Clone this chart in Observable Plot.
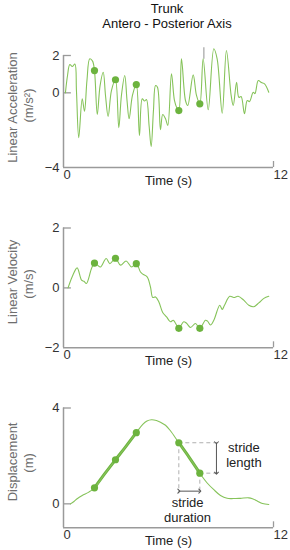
<!DOCTYPE html>
<html>
<head>
<meta charset="utf-8">
<script src="https://cdn.jsdelivr.net/npm/d3@7"></script>
<script src="https://cdn.jsdelivr.net/npm/@observablehq/plot@0.6"></script>
<style>
  body { margin: 0; background: #fff; font-family: "Liberation Sans", Arial, sans-serif; }
  #wrap { width: 290px; }
  .title { height: 38px; box-sizing: border-box; padding-top: 1px; padding-left: 44px;
           text-align: center; font-size: 13px; line-height: 15px; color: #111; }
  svg { display: block; }
</style>
</head>
<body>
<div id="wrap">
  <div class="title"><div>Trunk</div><div>Antero - Posterior Axis</div></div>
  <div id="p1"></div>
  <div id="p2"></div>
  <div id="p3"></div>
</div>
<script>
// ---- Data ----
const titleLines = ["Trunk", "Antero - Posterior Axis"];
const xLabel = "Time (s)";
const xTicks = [0, 12];

// Linear acceleration (m/s²)
const accT = [0.11,0.23,0.36,0.50,0.65,0.74,0.87,1.07,1.20,1.34,1.50,1.66,1.77,1.93,2.09,2.27,2.40,2.55,2.74,2.97,3.16,3.31,3.50,3.63,3.75,3.94,4.16,4.34,4.50,4.63,4.74,4.89,5.01,5.14,5.26,5.37,5.54,5.67,5.83,5.96,6.17,6.34,6.49,6.59,6.74,6.97,7.10,7.41,7.60,7.79,7.98,8.27,8.59,8.78,9.07,9.31,9.58,9.70,9.89,10.02,10.15,10.34,10.50,10.63,10.84,10.94,11.13,11.31,11.49,11.73];
const accV = [0.00,0.93,1.52,1.41,1.54,0.12,-2.41,-0.32,-0.99,0.66,1.82,1.70,1.19,-1.16,0.39,1.10,-0.14,-1.27,0.12,0.70,-1.87,-0.14,0.93,-0.41,-1.39,-0.14,0.44,-2.29,-0.32,-0.44,-0.36,-1.75,-2.88,-0.95,0.39,0.30,-1.98,-1.16,-1.39,-1.75,1.02,-0.41,-0.84,-0.95,1.82,-0.41,-0.68,0.96,-0.14,-0.59,1.82,-0.91,2.36,1.82,-1.09,2.27,-0.14,-0.68,0.57,-0.24,-0.20,-1.12,-0.41,-0.47,0.03,-0.04,0.66,0.55,0.48,0.03];

// Linear velocity (m/s)
const velT = [0.26,0.51,0.78,1.03,1.17,1.31,1.60,1.77,1.94,2.11,2.44,2.65,2.97,3.26,3.58,3.89,4.16,4.40,4.53,4.78,4.97,5.10,5.26,5.45,5.66,5.89,6.11,6.27,6.40,6.59,6.87,7.03,7.26,7.54,7.79,8.11,8.23,8.40,8.59,8.93,9.07,9.20,9.50,9.73,9.98,10.30,10.59,10.87,11.16,11.45,11.73];
const velV = [0.00,0.39,0.67,0.26,0.22,0.15,0.65,0.83,0.76,0.70,0.98,0.81,0.99,0.76,0.90,0.70,0.81,0.53,0.46,0.37,0.03,-0.32,-0.30,-0.47,-0.81,-0.97,-1.13,-1.08,-1.18,-1.35,-1.13,-1.18,-1.32,-1.19,-1.35,-1.08,-1.11,-1.24,-1.08,-0.58,-0.72,-0.58,-0.28,-0.32,-0.28,-0.41,-0.58,-0.63,-0.50,-0.35,-0.28];

// Displacement (m)
const dispT = [0.40,0.60,0.78,1.07,1.45,1.77,2.37,2.97,3.57,4.16,4.53,4.77,5.03,5.31,5.54,5.83,6.11,6.59,7.20,7.79,8.21,8.59,8.97,9.35,9.71,10.11,10.59,10.83,11.07,11.37,11.73];
const dispV = [0.00,0.10,0.21,0.35,0.49,0.67,1.27,1.84,2.40,2.97,3.32,3.46,3.51,3.48,3.41,3.28,3.05,2.55,1.92,1.28,0.87,0.59,0.35,0.23,0.22,0.23,0.25,0.20,0.12,0.01,-0.03];

// Event markers (same instants in all three panels)
const dotT = [1.77, 2.97, 4.16, 6.59, 7.79];
const accDots = [1.19, 0.70, 0.44, -0.95, -0.59];
const velDots = [0.83, 0.99, 0.81, -1.35, -1.35];
const dispDots = [0.67, 1.84, 2.97, 2.55, 1.28];

// Stride annotation (displacement panel)
const strideArrowY = 0.53;
const strideGuideEndT = 8.87;
const strideArrowT = 8.74;
const strideGuideBottom = 0.42;
const strideLenLabel = {t: 10.31, v: 2.06, text: "stride\nlength"};
const strideDurLabel = {t: 7.09, v: -0.25, text: "stride\nduration"};

// grey spike in the acceleration panel
const accSpike = {t: 8.02, v1: 1.8, v2: 2.42};

// ---- Styling ----
const lineColor = "#86c35a";
const dotColor = "#6cb33e";
const axisColor = "#9a9a9a";
const tickText = "#333";
const yTitleColor = "#6e6e6e";
const FONT = "'Liberation Sans', Arial, sans-serif";

function rows(T, V) { return T.map((t, i) => ({t, v: V[i]})); }

function panel({el, height, marginTop, marginBottom, yDomain, yTicks, yTickLabels,
                yTitle, yUnit, titleDy, unitDy, data, dots, tickUpLen, extra = []}) {
  const [y0, y1] = yDomain;
  const marks = [
    Plot.ruleX([0], {x: d => d, y1: y0, y2: yTicks[0], stroke: axisColor, strokeWidth: 1.5}),
    Plot.ruleY([y0], {y: d => d, x1: 0, x2: 12, stroke: axisColor, strokeWidth: 1.5}),
    Plot.ruleY(yTicks.filter(d => d !== y0), {y: d => d, x1: 0, x2: 0.45, stroke: axisColor, strokeWidth: 1.3}),
    Plot.ruleX([12], {x: d => d, y1: y0, y2: y0 + tickUpLen, stroke: axisColor, strokeWidth: 1.3}),
    Plot.text(yTicks, {x: 0, y: d => d, text: (d, i) => yTickLabels[i], textAnchor: "end", lineAnchor: "middle", dx: -4, fill: tickText}),
    Plot.text(xTicks, {x: d => d, text: d => String(d), frameAnchor: "bottom", textAnchor: "start", lineAnchor: "middle", dy: 7.5, fill: tickText}),
    Plot.text([xLabel], {text: d => d, frameAnchor: "bottom", textAnchor: "middle", lineAnchor: "middle", dy: 13.5, fill: "#222"}),
    Plot.text([yTitle], {text: d => d, frameAnchor: "left", textAnchor: "middle", lineAnchor: "middle", rotate: -90, dx: -51, dy: titleDy, fill: yTitleColor}),
    Plot.text([yUnit], {text: d => d, frameAnchor: "left", textAnchor: "middle", lineAnchor: "middle", rotate: -90, dx: -35, dy: unitDy, fill: yTitleColor}),
    ...extra,
    Plot.line(data, {x: "t", y: "v", stroke: lineColor, strokeWidth: 1.1, curve: "catmull-rom"}),
    Plot.dot(dots, {x: "t", y: "v", r: 3.6, fill: dotColor, stroke: "none"})
  ];
  const chart = Plot.plot({
    width: 290, height, marginTop, marginBottom, marginLeft: 63, marginRight: 17,
    x: {domain: [0, 12], axis: null},
    y: {domain: [y0, y1], axis: null},
    style: {fontFamily: FONT, fontSize: "13px", overflow: "visible", background: "#fff"},
    marks
  });
  document.getElementById(el).appendChild(chart);
}

panel({
  el: "p1", height: 152, marginTop: 17, marginBottom: 23,
  yDomain: [-4, 2], yTicks: [2, 0, -4], yTickLabels: ["2", "0", "\u22124"],
  yTitle: "Linear Acceleration", yUnit: "(m/s\u00B2)", titleDy: -4, unitDy: -6,
  data: rows(accT, accV), dots: rows(dotT, accDots), tickUpLen: 0.32,
  extra: [Plot.ruleX([accSpike], {x: "t", y1: "v1", y2: "v2", stroke: "#aaa", strokeWidth: 1.3})]
});

panel({
  el: "p2", height: 180, marginTop: 37.5, marginBottom: 22.7,
  yDomain: [-2, 2], yTicks: [2, 0, -2], yTickLabels: ["2", "0", "\u22122"],
  yTitle: "Linear Velocity", yUnit: "(m/s)", titleDy: -6, unitDy: -4,
  data: rows(velT, velV), dots: rows(dotT, velDots), tickUpLen: 0.2
});

const dispRows = rows(dispT, dispV);
const thick1 = dispRows.filter(d => d.t >= dotT[0] && d.t <= dotT[2]);
const thick2 = dispRows.filter(d => d.t >= dotT[3] && d.t <= dotT[4]);
const sA = {t: dotT[3], v: dispDots[3]};
const sB = {t: dotT[4], v: dispDots[4]};
const dash = {stroke: "#b0b0b0", strokeWidth: 1, strokeDasharray: "4,3"};
panel({
  el: "p3", height: 180, marginTop: 37.5, marginBottom: 22.7,
  yDomain: [-1, 4], yTicks: [4, 0], yTickLabels: ["4", "0"],
  yTitle: "Displacement", yUnit: "(m)", titleDy: -6, unitDy: -5,
  data: dispRows, dots: rows(dotT, dispDots), tickUpLen: 0.25,
  extra: [
    Plot.ruleX([sA, sB], {x: "t", y1: "v", y2: strideGuideBottom, ...dash}),
    Plot.ruleY([sA, sB], {y: "v", x1: "t", x2: strideGuideEndT, ...dash}),
    Plot.link([{x1: strideArrowT, y1: sA.v, x2: strideArrowT, y2: sB.v}],
      {x1: "x1", y1: "y1", x2: "x2", y2: "y2", stroke: "#555", strokeWidth: 1, markerStart: "arrow", markerEnd: "arrow"}),
    Plot.link([{x1: sA.t, y1: strideArrowY, x2: sB.t, y2: strideArrowY}],
      {x1: "x1", y1: "y1", x2: "x2", y2: "y2", stroke: "#555", strokeWidth: 1, markerStart: "arrow", markerEnd: "arrow"}),
    Plot.text([strideLenLabel], {x: "t", y: "v", text: "text", lineHeight: 1.15, fill: "#222"}),
    Plot.text([strideDurLabel], {x: "t", y: "v", text: "text", lineHeight: 1.15, fill: "#222"}),
    Plot.line(thick1, {x: "t", y: "v", stroke: dotColor, strokeWidth: 3, curve: "catmull-rom"}),
    Plot.line(thick2, {x: "t", y: "v", stroke: dotColor, strokeWidth: 3, curve: "catmull-rom"})
  ]
});
</script>
</body>
</html>
